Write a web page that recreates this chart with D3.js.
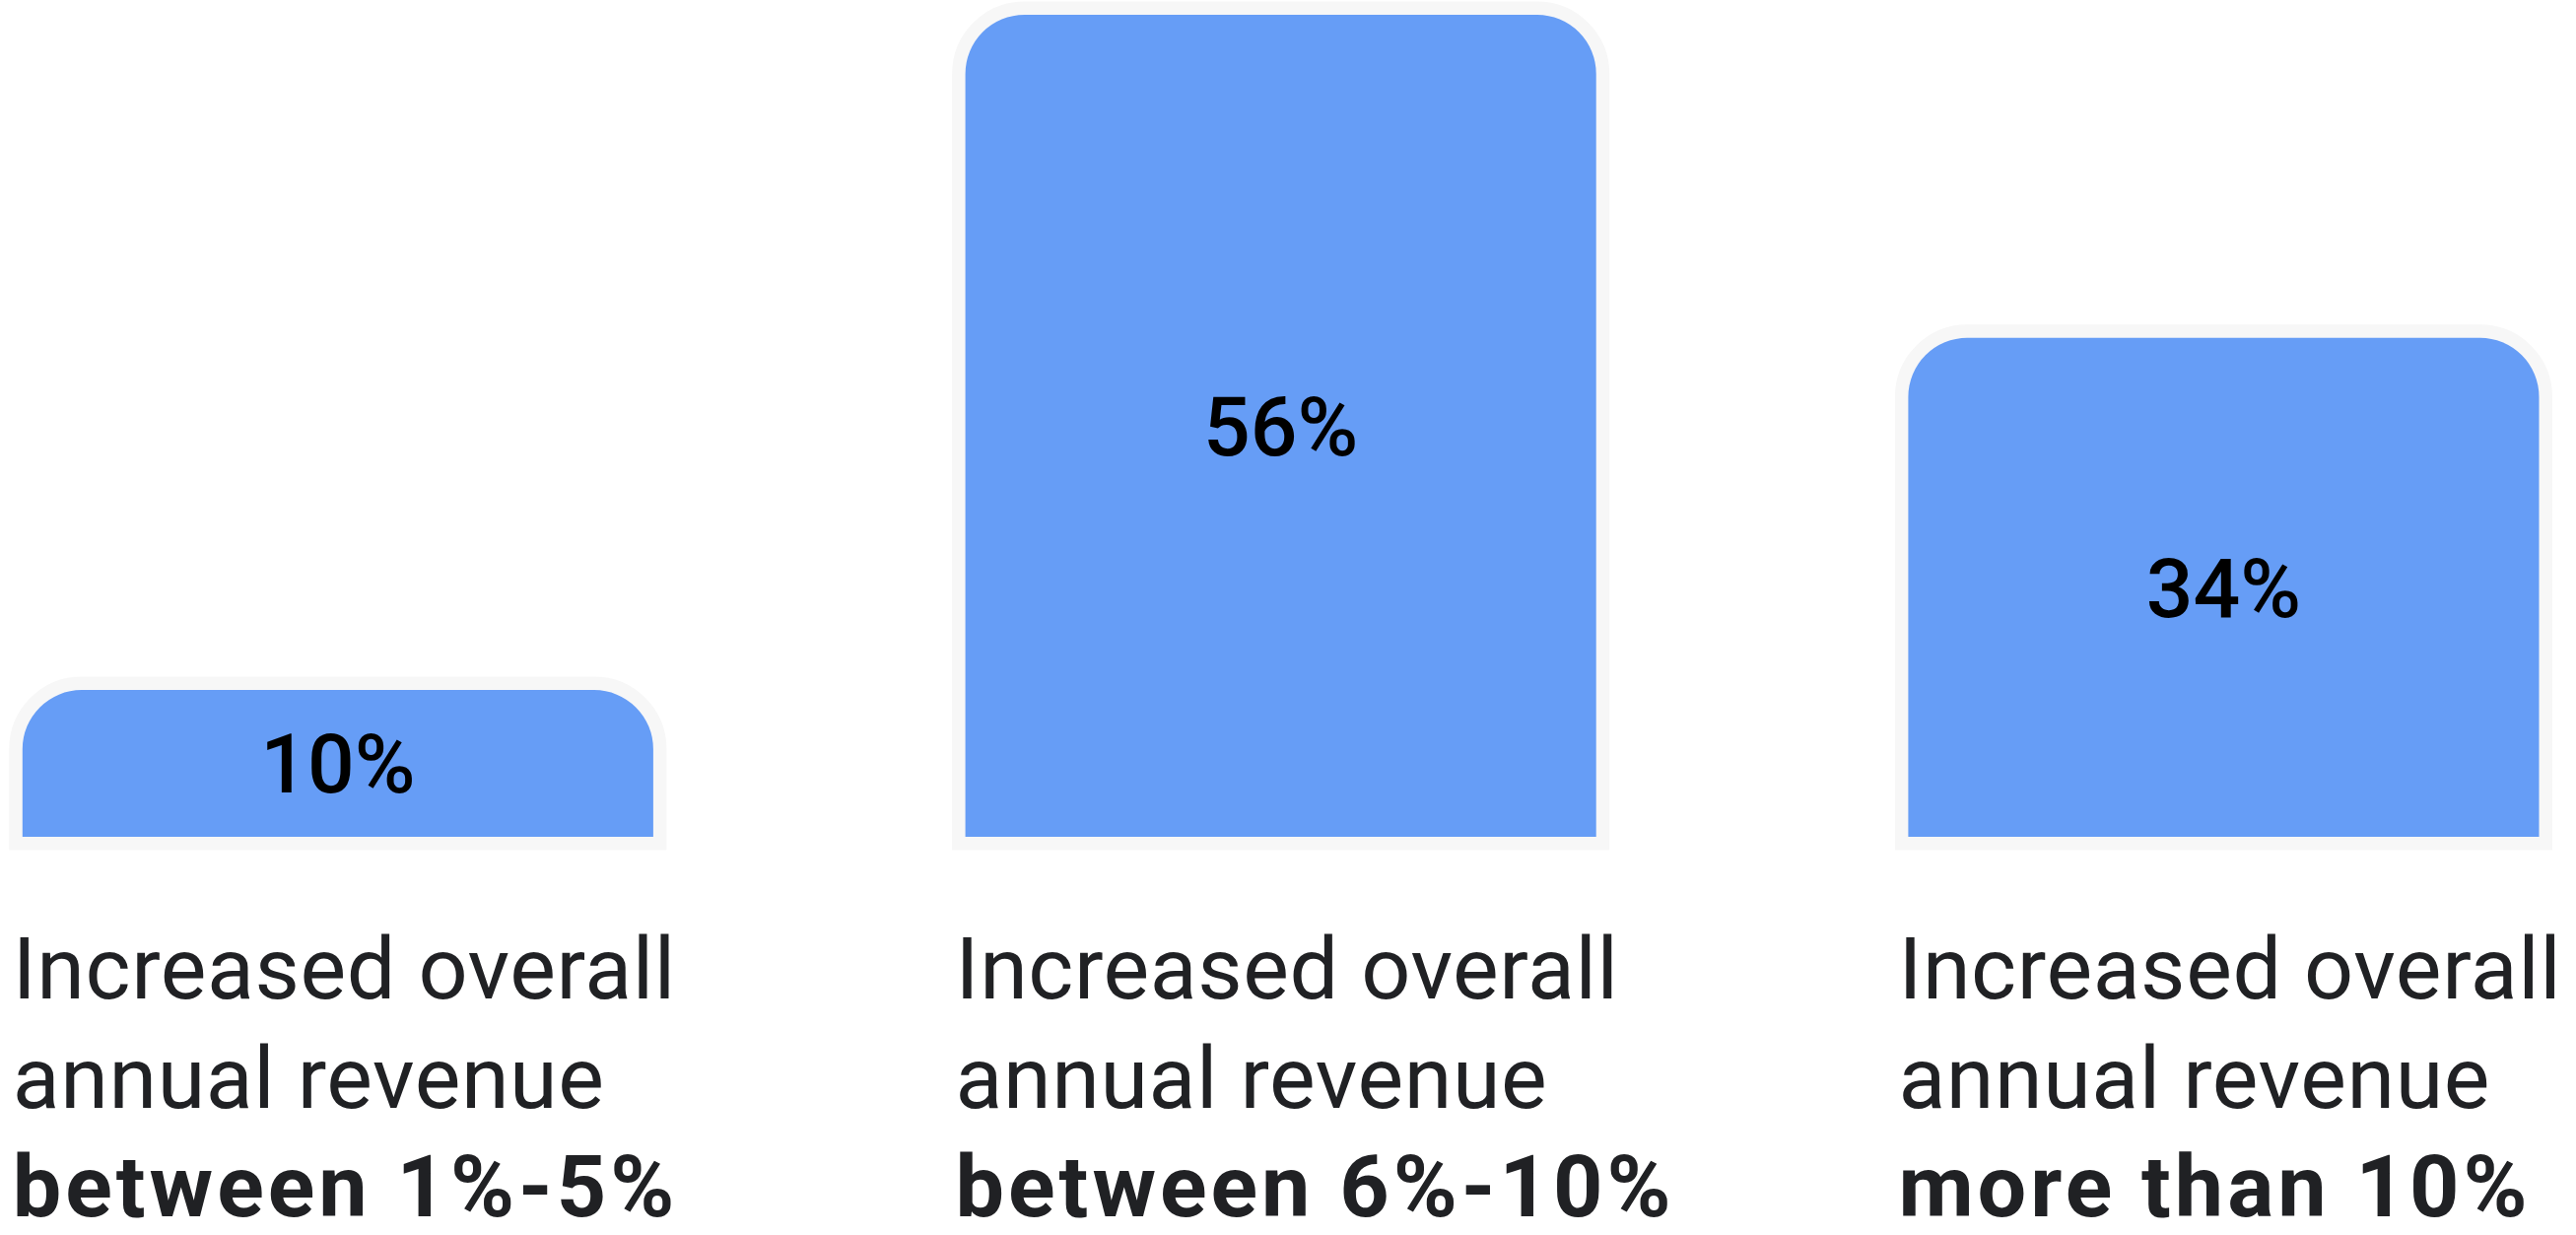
<!DOCTYPE html>
<html>
<head>
<meta charset="utf-8">
<script src="https://cdn.jsdelivr.net/npm/d3@7"></script>
<style>
  html, body { margin: 0; padding: 0; background: #ffffff; }
  svg { display: block; }
</style>
</head>
<body>
<svg id="chart" width="2614" height="1253"></svg>
<script>
// Share of respondents by revenue-growth bracket
const categories = ["between 1%-5%", "between 6%-10%", "more than 10%"];
const values = [10, 56, 34];
const valueLabels = ["10%", "56%", "34%"];
const leadLines = ["Increased overall", "annual revenue"];

const chartWidth = 2614, chartHeight = 1253;
const barBase = 849;      // bottom of the bars
const barTop = 15;        // top of the tallest bar
const cornerRadius = 60;  // rounded top corners

const svg = d3.select("#chart");

const x = d3.scaleBand()
  .domain(categories)
  .range([22.8, 2576.5])
  .paddingInner(0.331)
  .paddingOuter(0);

const y = d3.scaleLinear()
  .domain([0, d3.max(values)])
  .range([barBase, barTop]);

const data = categories.map((c, i) => ({ cat: c, value: values[i], label: valueLabels[i] }));

// bar outline: rounded top corners, square bottom
function barPath(d) {
  const x0 = x(d.cat), w = x.bandwidth();
  const y0 = y(d.value), y1 = y(0);
  const r = Math.min(cornerRadius, (y1 - y0), w / 2);
  const p = d3.path();
  p.moveTo(x0, y1);
  p.lineTo(x0, y0 + r);
  p.arcTo(x0, y0, x0 + r, y0, r);
  p.lineTo(x0 + w - r, y0);
  p.arcTo(x0 + w, y0, x0 + w, y0 + r, r);
  p.lineTo(x0 + w, y1);
  p.closePath();
  return p.toString();
}

svg.append("g").attr("class", "bars")
  .selectAll("path")
  .data(data)
  .join("path")
  .attr("d", barPath)
  .attr("fill", "#669df6")
  .attr("stroke", "#f7f7f7")
  .attr("stroke-width", 27)
  .attr("stroke-linejoin", "miter")
  .style("paint-order", "stroke");

// value labels centred in each bar
svg.append("g").attr("class", "values")
  .selectAll("text")
  .data(data)
  .join("text")
  .attr("x", d => x(d.cat) + x.bandwidth() / 2)
  .attr("y", d => (y(d.value) + y(0)) / 2)
  .attr("dy", "0.355em")
  .attr("text-anchor", "middle")
  .attr("font-family", "Roboto, sans-serif")
  .attr("font-weight", 500)
  .attr("font-size", 84)
  .attr("fill", "#000000")
  .text(d => d.label);

// category captions under each bar
const captions = svg.append("g").attr("class", "captions")
  .selectAll("text")
  .data(data)
  .join("text")
  .attr("x", d => x(d.cat) - 10)
  .attr("y", 1013)
  .attr("font-family", "Roboto, sans-serif")
  .attr("font-size", 88)
  .attr("fill", "#202124");

captions.each(function(d) {
  const t = d3.select(this);
  const lx = x(d.cat) - 10;
  leadLines.forEach((line, i) => {
    t.append("tspan")
      .attr("x", lx)
      .attr("dy", i === 0 ? 0 : 111)
      .attr("font-weight", 400)
      .style("letter-spacing", "0.6px")
      .text(line);
  });
  t.append("tspan")
    .attr("x", lx)
    .attr("dy", 110)
    .attr("font-weight", 700)
    .style("letter-spacing", "4px")
    .text(d.cat);
});
</script>
</body>
</html>
